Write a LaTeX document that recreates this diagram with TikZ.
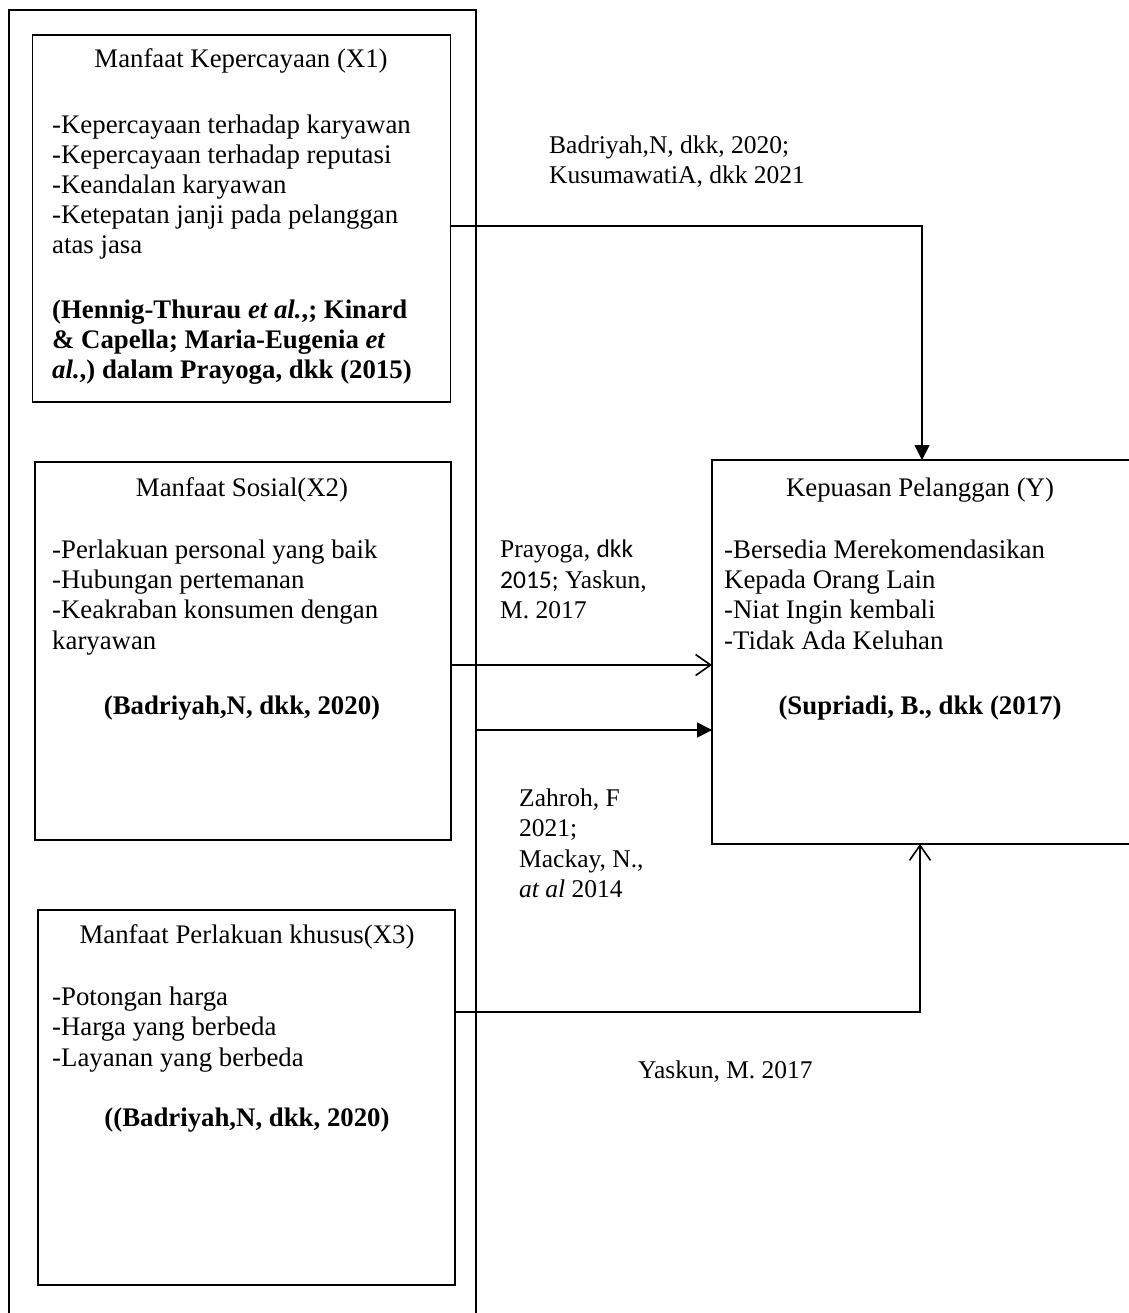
\documentclass[tikz,border=0pt]{standalone}
\usepackage{fontspec}
\setmainfont{Liberation Serif}
\newfontfamily\carlito{Carlito}
\usetikzlibrary{arrows.meta}
\begin{document}
\begin{tikzpicture}[x=1pt,y=-1pt,
  box/.style={draw,line width=1.6pt,inner sep=0pt},
  frame/.style={draw,line width=2.8pt},
  txt/.style={anchor=base west,inner sep=0pt,font=\fontsize{26.8}{30}\selectfont},
  ltxt/.style={anchor=base west,inner sep=0pt,font=\fontsize{25.5}{30}\selectfont},
  ctxt/.style={anchor=base,inner sep=0pt,font=\fontsize{26.8}{30}\selectfont},
  btxt/.style={anchor=base west,inner sep=0pt,font=\fontsize{26.8}{30}\selectfont\bfseries},
  cbtxt/.style={anchor=base,inner sep=0pt,font=\fontsize{26.8}{30}\selectfont\bfseries},
  conn/.style={line width=1.6pt},
  fillarrow/.style={conn,-{Triangle[length=15pt,width=15pt]}},
  openarrow/.style={conn,-{Straight Barb[length=15pt,width=21pt,line width=1.6pt]}}]
\useasboundingbox (0,0) rectangle (1128,1313);
% outer frame (open at the bottom)
\coordinate (fbl) at (9,1316);
\coordinate (ftl) at (9,10);
\coordinate (ftr) at (476,10);
\coordinate (fbr) at (476,1316);
\draw[frame] (fbl) -- (ftl) -- (ftr) -- (fbr);
% inner boxes
\node[box,minimum width=418pt,minimum height=367pt] (b1) at (241.5,218.5) {};
\node[box,minimum width=416pt,minimum height=378pt] (b2) at (243,651) {};
\node[box,minimum width=417pt,minimum height=375pt] (b3) at (246.5,1097.5) {};
% Y box (right side open, beyond the page)
\coordinate (ytr) at (1132,460);
\coordinate (ytl) at (712,460);
\coordinate (ybl) at (712,844);
\coordinate (ybr) at (1132,844);
\draw[box] (ytr) -- (ytl) -- (ybl) -- (ybr);
% box 1 text
\node[ctxt] (t1) at (241,68) {Manfaat Kepercayaan (X1)};
\node[txt] (t1a) at (52,134) {-Kepercayaan terhadap karyawan};
\node[txt] (t1b) at (52,164) {-Kepercayaan terhadap reputasi};
\node[txt] (t1c) at (52,194) {-Keandalan karyawan};
\node[txt] (t1d) at (52,224) {-Ketepatan janji pada pelanggan};
\node[txt] (t1e) at (52,254) {atas jasa};
\node[btxt] (t1f) at (52,318) {(Hennig-Thurau \textit{et al.},; Kinard};
\node[btxt] (t1g) at (52,348) {\& Capella; Maria-Eugenia \textit{et}};
\node[btxt] (t1h) at (52,378) {\textit{al.},) dalam Prayoga, dkk (2015)};
% box 2 text
\node[ctxt] (t2) at (242,496) {Manfaat Sosial(X2)};
\node[txt] (t2a) at (52,558) {-Perlakuan personal yang baik};
\node[txt] (t2b) at (52,588) {-Hubungan pertemanan};
\node[txt] (t2c) at (52,618) {-Keakraban konsumen dengan};
\node[txt] (t2d) at (52,649) {karyawan};
\node[cbtxt] (t2e) at (242,714) {(Badriyah,N, dkk, 2020)};
% box 3 text
\node[ctxt] (t3) at (247,943) {Manfaat Perlakuan khusus(X3)};
\node[txt] (t3a) at (52,1005) {-Potongan harga};
\node[txt] (t3b) at (52,1035) {-Harga yang berbeda};
\node[txt] (t3c) at (52,1066) {-Layanan yang berbeda};
\node[cbtxt] (t3d) at (247,1126) {((Badriyah,N, dkk, 2020)};
% Y box text
\node[ctxt] (ty) at (920,496) {Kepuasan Pelanggan (Y)};
\node[txt] (tya) at (724,558) {-Bersedia Merekomendasikan};
\node[txt] (tyb) at (724,588) {Kepada Orang Lain};
\node[txt] (tyc) at (724,618) {-Niat Ingin kembali};
\node[txt] (tyd) at (724,649) {-Tidak Ada Keluhan};
\node[cbtxt] (tye) at (920,714) {(Supriadi, B., dkk (2017)};
% connector labels
\node[ltxt] (l1a) at (549,154) {Badriyah,N, dkk, 2020;};
\node[ltxt] (l1b) at (549,184) {KusumawatiA, dkk 2021};
\node[ltxt] (l2a) at (500,557) {Prayoga, {\carlito dkk}};
\node[ltxt] (l2b) at (500,588) {{\carlito 2015;} Yaskun,};
\node[ltxt] (l2c) at (500,618) {M. 2017};
\node[ltxt] (l3a) at (519,806) {Zahroh, F};
\node[ltxt] (l3b) at (519,836) {2021;};
\node[ltxt] (l3c) at (519,867) {Mackay, N.,};
\node[ltxt] (l3d) at (519,897) {\textit{at al} 2014};
\node[ltxt] (l4) at (638,1078) {Yaskun, M. 2017};
% connectors
\coordinate (c1s) at (b1.east |- 0,226);
\coordinate (c1k) at (922,226);
\coordinate (c1e) at (922,460);
\draw[fillarrow] (c1s) -- (c1k) -- (c1e);
\coordinate (c2s) at (b2.east |- 0,665);
\coordinate (c2e) at (712,665);
\draw[openarrow] (c2s) -- (c2e);
\coordinate (c3s) at (476,730);
\coordinate (c3e) at (712,730);
\draw[fillarrow] (c3s) -- (c3e);
\coordinate (c4s) at (b3.east |- 0,1012);
\coordinate (c4k) at (920,1012);
\coordinate (c4e) at (920,844);
\draw[openarrow] (c4s) -- (c4k) -- (c4e);
\end{tikzpicture}
\end{document}
